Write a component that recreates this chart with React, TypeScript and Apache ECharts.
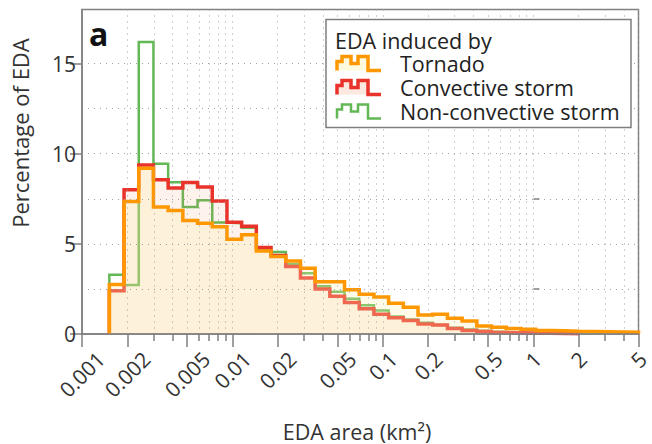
import React, { useEffect, useRef } from "react";
import * as echarts from "echarts";

// ---- data ----
const binFirstEdge = 0.00152; // km², left edge of the first bin
const binLastEdge = 5; // km², right edge of the last bin
const tornado = [2.75, 7.35, 9.2, 7.05, 6.85, 6.3, 6.15, 5.95, 5.25, 5.5, 4.6, 4.3, 4.05, 3.65, 2.9, 2.9, 2.45, 2.2, 2.05, 1.7, 1.48, 1.05, 1.1, 0.87, 0.72, 0.44, 0.37, 0.31, 0.26, 0.2, 0.18, 0.15, 0.14, 0.12, 0.11, 0.1];
const convective = [2.4, 8.0, 9.37, 8.55, 8.1, 8.4, 8.15, 7.38, 6.2, 5.98, 4.8, 4.35, 3.75, 3.1, 2.5, 2.1, 1.75, 1.4, 1.1, 0.9, 0.75, 0.56, 0.5, 0.31, 0.2, 0.14, 0.09, 0.07, 0.05, 0.04, 0.03, 0.02];
const nonConvective = [3.28, 2.72, 16.2, 9.44, 8.42, 7.05, 7.42, 6.18, 6.15, 5.9, 4.65, 4.55, 3.87, 3.37, 2.65, 2.35, 1.95, 1.6, 1.3, 0.97, 0.8, 0.62, 0.5, 0.35, 0.25, 0.18, 0.12, 0.08, 0.06, 0.05, 0.04];
const xMajorTicks = [0.001, 0.002, 0.005, 0.01, 0.02, 0.05, 0.1, 0.2, 0.5, 1, 2, 5];
const xMinorTicks = [0.003, 0.004, 0.006, 0.007, 0.008, 0.009, 0.03, 0.04, 0.06, 0.07, 0.08, 0.09, 0.3, 0.4, 0.6, 0.7, 0.8, 0.9, 3, 4, 6, 7, 8, 9];
const yMajorTicks = [0, 5, 10, 15];
const yMinorTicks = [2.5, 7.5, 12.5];
const legendTitle = "EDA induced by";
const legendNames = ["Tornado", "Convective storm", "Non-convective storm"];
const xTitle = "EDA area (km²)";
const yTitle = "Percentage of EDA";
const panelLabel = "a";

const lg = (v: number) => Math.log10(v);
const nBins = tornado.length;
const edges = Array.from({ length: nBins + 1 }, (_, k) =>
  binFirstEdge * Math.pow(binLastEdge / binFirstEdge, k / nBins)
);

function stepPoints(values: number[]) {
  const pts: number[][] = [[lg(edges[0]), 0]];
  values.forEach((v, k) => pts.push([lg(edges[k]), v]));
  const n = values.length;
  pts.push([lg(edges[n]), values[n - 1]]);
  pts.push([lg(edges[n]), 0]);
  return pts;
}

const FONT = "Open Sans";
const AXIS = "#7f7f7f";
const DOT = "#a0a0a0";
const TXT = "#333";

const ORANGE = "#ff9800";
const RED = "#e8322a";
const GREEN = "#62b855";
const ORANGE_FILL = "rgba(255,242,172,0.4)";
const RED_FILL = "rgba(235,128,75,0.15)";

const X_LABEL_FS = 21;
const X_LABEL_TOP = 350;
const LEG_FS = 21.5;

const iconPts = [
  [0, 14], [0, 5], [5, 5], [5, 0], [14, 0], [14, 7], [21, 7], [21, 0], [31, 0], [31, 14], [44, 14],
];

function icon(x0: number, y0: number, color: string, fill: string | null, lw: number) {
  const pts = iconPts.map(([x, y]) => [x0 + x, y0 + y]);
  const els: any[] = [];
  if (fill) {
    els.push({ type: "polygon", z: 21, shape: { points: pts }, style: { fill, stroke: null } });
  }
  els.push({
    type: "polyline",
    z: 22,
    shape: { points: pts },
    style: { stroke: color, lineWidth: lw, fill: null, lineJoin: "miter" },
  });
  return els;
}

export default function App() {
  const ref = useRef<HTMLDivElement>(null);
  useEffect(() => {
    if (!ref.current) return;
    const chart = echarts.init(ref.current, null, { renderer: "svg" });
    const splitDots = { show: true, lineStyle: { color: DOT, width: 1, type: [1, 5] as any } };
    const option: any = {
      animation: false,
      textStyle: { fontFamily: FONT },
      grid: {
        left: 82,
        right: 13.5,
        top: 9.5,
        bottom: 110,
        show: true,
        borderColor: AXIS,
        borderWidth: 1.5,
        backgroundColor: "transparent",
      },
      xAxis: [
        {
          type: "value",
          min: -3,
          max: lg(5),
          position: "bottom",
          z: 10,
          axisLine: { show: true, onZero: false, lineStyle: { color: AXIS, width: 1.5 } },
          axisTick: { show: true, length: 13, lineStyle: { color: AXIS, width: 1.5 }, customValues: xMajorTicks.map(lg) },
          axisLabel: { show: false },
          splitLine: splitDots,
        },
        {
          type: "value",
          min: -3,
          max: lg(5),
          position: "bottom",
          z: 10,
          axisLine: { show: false },
          axisTick: { show: true, length: 7, lineStyle: { color: AXIS, width: 1.5 }, customValues: xMinorTicks.map(lg) },
          axisLabel: { show: false },
          splitLine: splitDots,
        },
      ],
      yAxis: [
        {
          type: "value",
          min: 0,
          max: 18,
          z: 10,
          axisLine: { show: true, onZero: false, lineStyle: { color: AXIS, width: 1.5 } },
          axisTick: { show: true, length: 12, lineStyle: { color: AXIS, width: 1.5 }, customValues: yMajorTicks },
          axisLabel: { show: true, customValues: yMajorTicks, fontSize: 21, color: TXT, fontFamily: FONT, margin: 6 },
          splitLine: splitDots,
        },
        {
          type: "value",
          min: 0,
          max: 18,
          z: 10,
          axisLine: { show: false },
          axisTick: { show: true, length: 6, lineStyle: { color: AXIS, width: 1.5 }, customValues: yMinorTicks },
          axisLabel: { show: false },
          splitLine: splitDots,
        },
      ],
      series: [
        {
          name: legendNames[2],
          type: "line",
          xAxisIndex: 0,
          yAxisIndex: 0,
          step: "end",
          z: 2,
          symbol: "none",
          data: stepPoints(nonConvective),
          lineStyle: { color: GREEN, width: 2.5, join: "miter" },
        },
        {
          name: legendNames[1],
          type: "line",
          xAxisIndex: 0,
          yAxisIndex: 0,
          step: "end",
          z: 3,
          symbol: "none",
          data: stepPoints(convective),
          lineStyle: { color: RED, width: 3.5, join: "miter" },
          areaStyle: { color: RED_FILL },
        },
        {
          name: legendNames[0],
          type: "line",
          xAxisIndex: 0,
          yAxisIndex: 0,
          step: "end",
          z: 4,
          symbol: "none",
          data: stepPoints(tornado),
          lineStyle: { color: ORANGE, width: 3.5, join: "miter" },
          areaStyle: { color: ORANGE_FILL },
        },
      ],
    };
    chart.setOption(option);

    // rotated x tick labels: bounding box centred on the tick, top at a fixed line
    const canvas = document.createElement("canvas");
    const ctx = canvas.getContext("2d")!;
    ctx.font = `${X_LABEL_FS}px '${FONT}'`;
    const s = Math.SQRT1_2;
    const xLabels = xMajorTicks.map((t) => {
      const txt = String(t);
      const [px] = chart.convertToPixel({ gridIndex: 0 }, [lg(t), 0]) as number[];
      const L = ctx.measureText(txt).width;
      const hv = 0.714 * X_LABEL_FS;
      return {
        type: "text",
        x: px,
        y: X_LABEL_TOP + (s * (L + hv)) / 2,
        rotation: Math.PI / 4,
        z: 20,
        style: {
          text: txt,
          font: `${X_LABEL_FS}px '${FONT}'`,
          fill: TXT,
          align: "center",
          verticalAlign: "middle",
        },
      };
    });

    chart.setOption({
      graphic: [
        ...xLabels,
        {
          type: "text",
          x: 89,
          y: 33,
          z: 20,
          style: { text: panelLabel, font: `bold 32px '${FONT}'`, fill: "#111", verticalAlign: "middle" },
        },
        {
          type: "text",
          x: 20,
          y: 133,
          rotation: Math.PI / 2,
          z: 20,
          style: { text: yTitle, font: `22px '${FONT}'`, lineHeight: 22, fill: TXT, align: "center", verticalAlign: "middle" },
        },
        {
          type: "text",
          x: 357,
          y: 431,
          z: 20,
          style: { text: xTitle, font: `21.5px '${FONT}'`, lineHeight: 22, fill: TXT, align: "center", verticalAlign: "middle" },
        },
        {
          type: "rect",
          z: 20,
          shape: { x: 326, y: 19.5, width: 305, height: 108 },
          style: { fill: "#fff", stroke: AXIS, lineWidth: 1.5 },
        },
        {
          type: "text",
          x: 335,
          y: 40,
          z: 22,
          style: { text: legendTitle, font: `${LEG_FS}px '${FONT}'`, lineHeight: 22, fill: "#222", verticalAlign: "middle" },
        },
        ...icon(337, 56.5, ORANGE, "rgb(255,249,222)", 3.5),
        ...icon(337, 80.5, RED, "rgb(252,232,222)", 3.5),
        ...icon(337, 104.5, GREEN, null, 2.5),
        ...legendNames.map((n, i) => ({
          type: "text",
          x: 400,
          y: 63 + i * 24,
          z: 22,
          style: { text: n, font: `${LEG_FS}px '${FONT}'`, lineHeight: 22, fill: "#222", verticalAlign: "middle" },
        })),
      ],
    });
    return () => chart.dispose();
  }, []);
  return (
    <div
      ref={ref}
      style={{ position: "fixed", left: 0, top: 0, width: 652, height: 444, background: "#fff" }}
    />
  );
}
